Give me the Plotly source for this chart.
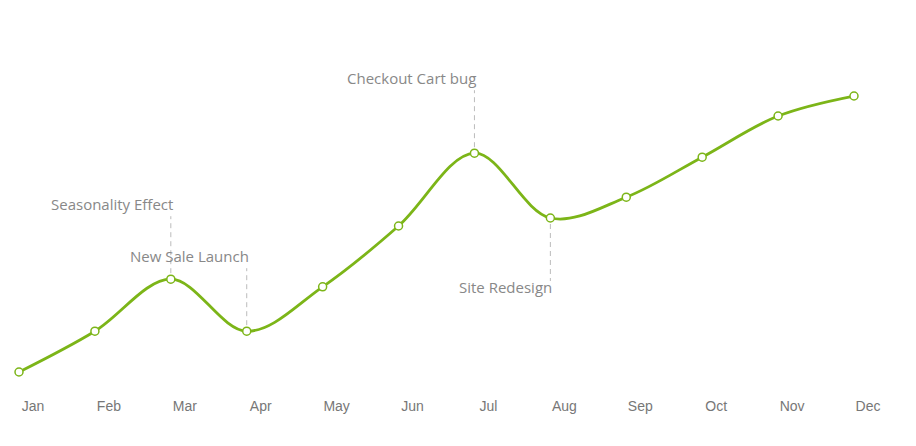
import plotly.graph_objects as go

months = ["Jan", "Feb", "Mar", "Apr", "May", "Jun", "Jul", "Aug", "Sep", "Oct", "Nov", "Dec"]
values = [12, 22.2, 35.2, 22.2, 33.3, 48.5, 66.7, 50.5, 55.7, 65.7, 76, 81]

# events: (month index, label, direction)
event_idx = [2, 3, 6, 7]
event_text = ["Seasonality Effect", "New Sale Launch", "Checkout Cart bug", "Site Redesign"]
event_up = [True, True, True, False]

xs = list(range(len(months)))
green = "#7cb518"

fig = go.Figure()
fig.add_trace(go.Scatter(
    x=xs, y=values, mode="lines+markers",
    line=dict(color=green, width=2.8, shape="spline", smoothing=1.0),
    marker=dict(size=8, color="white", line=dict(color=green, width=1.5)),
    cliponaxis=False, hoverinfo="skip", showlegend=False,
))

shapes = []
annotations = []
for i, txt, up in zip(event_idx, event_text, event_up):
    sgn = 1 if up else -1
    shapes.append(dict(
        type="line", xref="x", yref="y", ysizemode="pixel", yanchor=values[i],
        x0=xs[i], x1=xs[i], y0=sgn * 6, y1=sgn * 63,
        line=dict(color="#bbbbbb", width=1, dash="5px,4px"), layer="below",
    ))
    annotations.append(dict(
        x=xs[i], y=values[i], xref="x", yref="y", text=txt, showarrow=False,
        xanchor="right", yanchor="middle", xshift=4,
        yshift=75 if up else -69,
        font=dict(family="Open Sans", size=15, color="#888888"),
    ))

fig.update_layout(
    width=916, height=446,
    margin=dict(l=19, r=62, t=20, b=54),
    paper_bgcolor="white", plot_bgcolor="white",
    shapes=shapes, annotations=annotations,
    xaxis=dict(
        range=[0, 11], tickmode="array", tickvals=xs, ticktext=months,
        showgrid=False, zeroline=False, showline=False, ticks="",
        tickfont=dict(family="Liberation Sans, Arial", size=14, color="#777777"),
        ticklabelshift=14, ticklabelstandoff=4,
    ),
    yaxis=dict(range=[7, 100], visible=False, showgrid=False, zeroline=False),
)

fig.write_html("out.html")
